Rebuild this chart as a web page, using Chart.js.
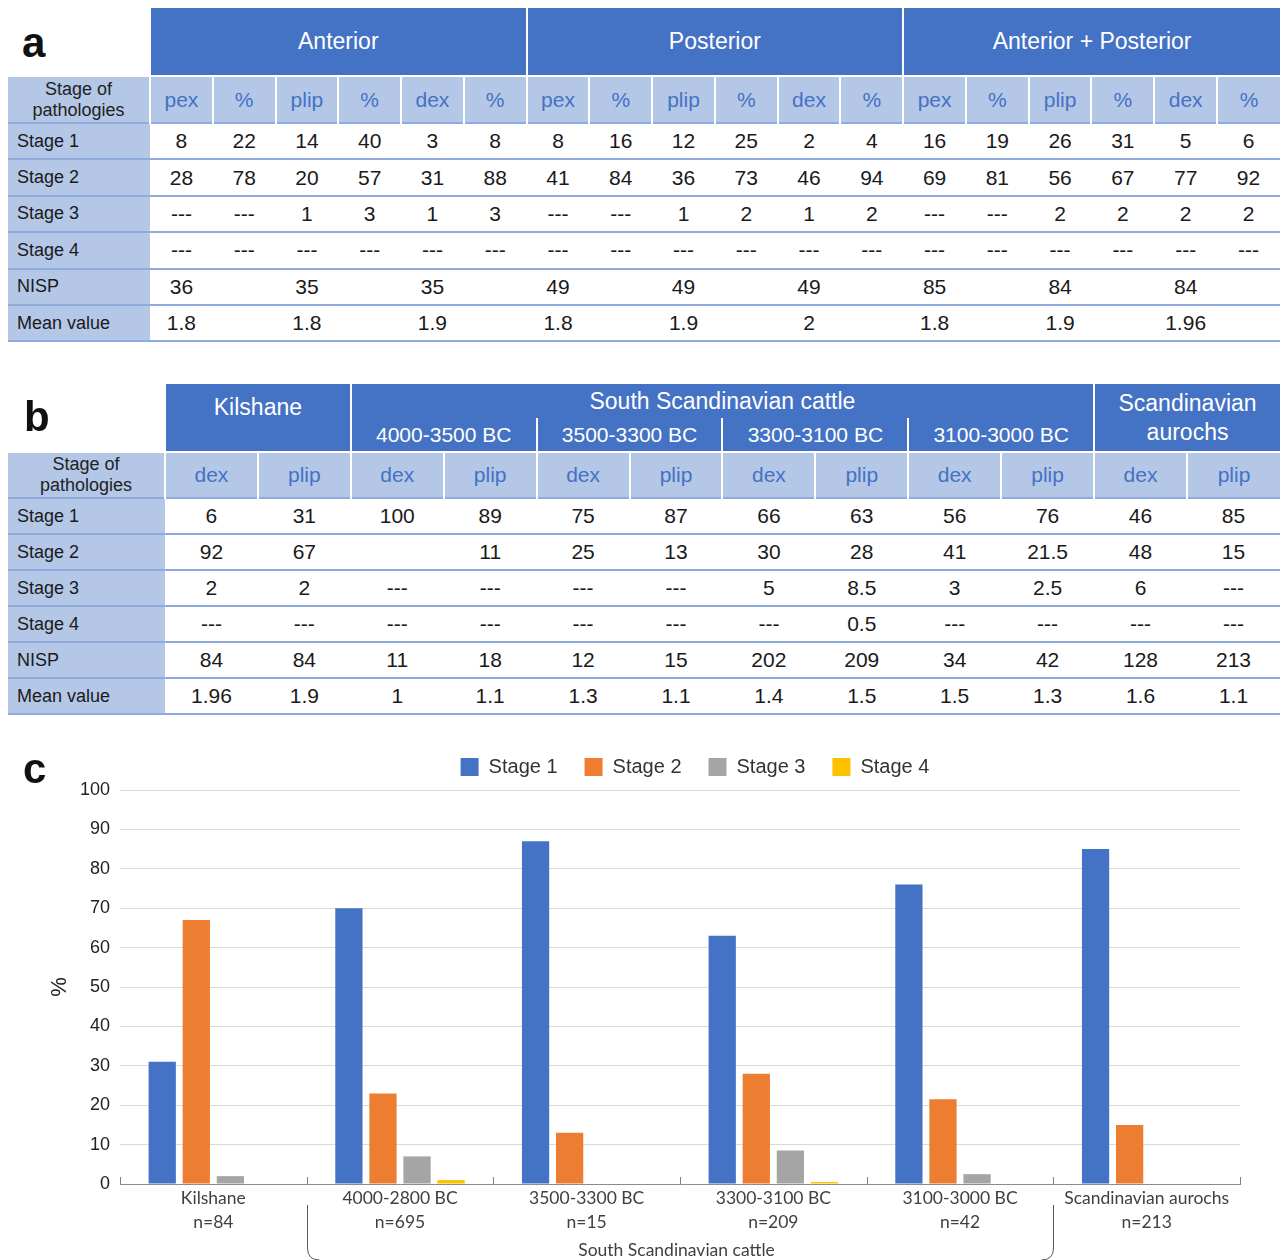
<!DOCTYPE html>
<html>
<head>
<meta charset="utf-8">
<script src="https://cdn.jsdelivr.net/npm/chart.js@4.4.1/dist/chart.umd.min.js"></script>
<style>
  body { margin: 0; width: 1286px; height: 1260px; background: #fff; position: relative; overflow: hidden; font-family: "Liberation Sans", Arial, sans-serif; }
  .panel-label { position: absolute; z-index: 5; font-weight: bold; font-size: 42px; line-height: 42px; color: #111; }
  table { position: absolute; left: 8px; width: 1272px; border-collapse: collapse; table-layout: fixed; }
  td, th { padding: 0; text-align: center; font-weight: normal; white-space: nowrap; overflow: hidden; }
  th.blank { background: transparent; }
  th.group { background: #4472C4; color: #fff; font-size: 23px; border-left: 2px solid #fff; }
  tr.sub td { background: #B4C7E7; color: #4472C4; font-size: 21px; height: 44px; border-left: 2px solid #fff; border-top: 2px solid #fff; }
  #table-a tr.sub td { height: 45px; }
  tr.sub td.stub { color: #222; font-size: 18px; line-height: 21px; white-space: normal; border-left: none; }
  tr.data td { height: 34px; font-size: 21px; color: #1a1a1a; border-top: 2px solid #8FAADC; }
  #table-a tr.data td { height: 34.4px; }
  tr.data:last-child td { border-bottom: 2px solid #8FAADC; }
  tr.data td.stub { background: #B4C7E7; text-align: left; padding-left: 9px; font-size: 18px; }
  #chart-box { position: absolute; left: 0; top: 727px; width: 1286px; height: 533px; }
</style>
</head>
<body>
<div class="panel-label" style="left:22px; top:22px;">a</div>
<div class="panel-label" style="left:24px; top:396px;">b</div>
<div class="panel-label" style="left:23px; top:748px;">c</div>

<table id="table-a" style="top:8px;"></table>
<table id="table-b" style="top:384px;"></table>

<div id="chart-box"><canvas id="stage-chart"></canvas></div>

<script>
// ---- table a: pathologies by element ----
const rowLabels = ["Stage 1", "Stage 2", "Stage 3", "Stage 4", "NISP", "Mean value"];
const aGroups = ["Anterior", "Posterior", "Anterior + Posterior"];
const aColumns = ["pex", "%", "plip", "%", "dex", "%"];
// null = "---", "" = empty cell
const aStage1 = [8, 22, 14, 40, 3, 8, 8, 16, 12, 25, 2, 4, 16, 19, 26, 31, 5, 6];
const aStage2 = [28, 78, 20, 57, 31, 88, 41, 84, 36, 73, 46, 94, 69, 81, 56, 67, 77, 92];
const aStage3 = [null, null, 1, 3, 1, 3, null, null, 1, 2, 1, 2, null, null, 2, 2, 2, 2];
const aStage4 = [null, null, null, null, null, null, null, null, null, null, null, null, null, null, null, null, null, null];
const aNisp = [36, "", 35, "", 35, "", 49, "", 49, "", 49, "", 85, "", 84, "", 84, ""];
const aMean = [1.8, "", 1.8, "", 1.9, "", 1.8, "", 1.9, "", 2, "", 1.8, "", 1.9, "", 1.96, ""];

// ---- table b: comparison with Scandinavian material ----
const bPeriods = ["4000-3500 BC", "3500-3300 BC", "3300-3100 BC", "3100-3000 BC"];
const bColumns = ["dex", "plip", "dex", "plip", "dex", "plip", "dex", "plip", "dex", "plip", "dex", "plip"];
const bStage1 = [6, 31, 100, 89, 75, 87, 66, 63, 56, 76, 46, 85];
const bStage2 = [92, 67, "", 11, 25, 13, 30, 28, 41, 21.5, 48, 15];
const bStage3 = [2, 2, null, null, null, null, 5, 8.5, 3, 2.5, 6, null];
const bStage4 = [null, null, null, null, null, null, null, 0.5, null, null, null, null];
const bNisp = [84, 84, 11, 18, 12, 15, 202, 209, 34, 42, 128, 213];
const bMean = [1.96, 1.9, 1, 1.1, 1.3, 1.1, 1.4, 1.5, 1.5, 1.3, 1.6, 1.1];

// ---- chart c ----
const categories = [
    ["Kilshane", "n=84"],
    ["4000-2800 BC", "n=695"],
    ["3500-3300 BC", "n=15"],
    ["3300-3100 BC", "n=209"],
    ["3100-3000 BC", "n=42"],
    ["Scandinavian aurochs", "n=213"],
];
const stage1 = [31, 70, 87, 63, 76, 85];
const stage2 = [67, 23, 13, 28, 21.5, 15];
const stage3 = [2, 7, null, 8.5, 2.5, null];
const stage4 = [null, 1, null, 0.5, null, null];
const braceLabel = "South Scandinavian cattle";

function cellText(v) {
    return v === null ? "---" : String(v);
}

function dataRows(rows) {
    return rows.map((values, i) =>
        '<tr class="data"><td class="stub">' + rowLabels[i] + "</td>" +
        values.map((v) => "<td>" + cellText(v) + "</td>").join("") + "</tr>"
    ).join("");
}

// Build table a
(function () {
    let html = '<colgroup><col style="width:142px">' + "<col>".repeat(18) + "</colgroup>";
    html += '<tr style="height:68px"><th class="blank"></th>' +
        aGroups.map((g) => '<th class="group" colspan="6">' + g + "</th>").join("") + "</tr>";
    html += '<tr class="sub"><td class="stub">Stage of<br>pathologies</td>' +
        aGroups.map(() => aColumns.map((c) => "<td>" + c + "</td>").join("")).join("") + "</tr>";
    html += dataRows([aStage1, aStage2, aStage3, aStage4, aNisp, aMean]);
    document.getElementById("table-a").innerHTML = html;
})();

// Build table b
(function () {
    let html = '<colgroup><col style="width:157px">' + "<col>".repeat(12) + "</colgroup>";
    html += '<tr style="height:34px"><th class="blank" rowspan="2"></th>' +
        '<th class="group" colspan="2" rowspan="2" style="vertical-align:top;padding-top:10px">Kilshane</th>' +
        '<th class="group" colspan="8">South Scandinavian cattle</th>' +
        '<th class="group" colspan="2" rowspan="2" style="line-height:29px;white-space:normal">Scandinavian<br>aurochs</th></tr>';
    html += '<tr style="height:34px">' +
        bPeriods.map((p) => '<th class="group" colspan="2" style="font-size:21px">' + p + "</th>").join("") + "</tr>";
    html += '<tr class="sub"><td class="stub">Stage of<br>pathologies</td>' +
        bColumns.map((c) => "<td>" + c + "</td>").join("") + "</tr>";
    html += dataRows([bStage1, bStage2, bStage3, bStage4, bNisp, bMean]);
    document.getElementById("table-b").innerHTML = html;
})();

// Legend: fixed height and shifted a bit, like the original
const legendSpacing = {
    id: "legendSpacing",
    beforeLayout(chart) {
        const legend = chart.legend;
        if (legend && !legend._fixed) {
            const fit = legend.fit;
            legend.fit = function () {
                fit.call(this);
                this.height = 63;
            };
            legend._fixed = true;
        }
    },
    afterLayout(chart) {
        chart.legend.left += 30;
        chart.legend.top += 3;
    },
};

// Upward tick marks between groups and the brace under the cattle groups
const axisDecor = {
    id: "axisDecor",
    afterDraw(chart) {
        const { ctx, chartArea } = chart;
        const x = chart.scales.x;
        ctx.save();
        ctx.strokeStyle = "#7f7f7f";
        ctx.lineWidth = 1;
        for (let i = 0; i <= categories.length; i++) {
            const px = Math.round(x.getPixelForValue(i - 0.5)) + 0.5;
            ctx.beginPath();
            ctx.moveTo(px, chartArea.bottom);
            ctx.lineTo(px, chartArea.bottom - 7);
            ctx.stroke();
        }

        const x0 = Math.round(x.getPixelForValue(0.5)) + 0.5;
        const x1 = Math.round(x.getPixelForValue(4.5)) + 0.5;
        const top = chartArea.bottom + 21;
        const bottom = chart.height;
        ctx.strokeStyle = "#595959";
        ctx.beginPath();
        ctx.moveTo(x0, top);
        ctx.lineTo(x0, bottom - 12);
        ctx.quadraticCurveTo(x0, bottom, x0 + 12, bottom);
        ctx.moveTo(x1, top);
        ctx.lineTo(x1, bottom - 12);
        ctx.quadraticCurveTo(x1, bottom, x1 - 12, bottom);
        ctx.stroke();

        ctx.fillStyle = "#404040";
        ctx.font = "17.5px Lato, 'Open Sans', sans-serif";
        ctx.textAlign = "center";
        ctx.textBaseline = "middle";
        ctx.fillText(braceLabel, (x0 + x1) / 2 - 4, bottom - 10);
        ctx.restore();
    },
};

const stageChart = new Chart(document.getElementById("stage-chart"), {
    type: "bar",
    data: {
        labels: categories,
        datasets: [
            { label: "Stage 1", data: stage1, backgroundColor: "#4472C4" },
            { label: "Stage 2", data: stage2, backgroundColor: "#ED7D31" },
            { label: "Stage 3", data: stage3, backgroundColor: "#A5A5A5" },
            { label: "Stage 4", data: stage4, backgroundColor: "#FFC000" },
        ],
    },
    options: {
        responsive: true,
        maintainAspectRatio: false,
        animation: false,
        categoryPercentage: 0.73,
        barPercentage: 0.8,
        layout: {
            padding: { left: 0, right: 46, top: 0, bottom: 0 },
        },
        plugins: {
            legend: {
                position: "top",
                fullSize: false,
                labels: {
                    boxWidth: 18,
                    boxHeight: 18,
                    padding: 27,
                    color: "#333",
                    font: { family: "'Liberation Sans', Arial, sans-serif", size: 20 },
                },
            },
            tooltip: { enabled: false },
        },
        scales: {
            x: {
                grid: { display: false, drawTicks: false },
                border: { display: true, color: "#8c8c8c", width: 1 },
                ticks: {
                    color: "#404040",
                    padding: 2,
                    maxRotation: 0,
                    autoSkip: false,
                    font: { family: "Lato, 'Open Sans', sans-serif", size: 17.5, lineHeight: 1.4 },
                },
                afterFit(scale) {
                    scale.height = 76;
                },
            },
            y: {
                min: 0,
                max: 100,
                ticks: {
                    stepSize: 10,
                    padding: 10,
                    color: "#222",
                    font: { family: "'Liberation Sans', Arial, sans-serif", size: 18 },
                },
                grid: { color: "#d9d9d9", lineWidth: 1, drawTicks: false },
                border: { display: false },
                title: {
                    display: true,
                    text: "%",
                    color: "#222",
                    padding: { top: 47, bottom: 0 },
                    font: { family: "'Liberation Sans', Arial, sans-serif", size: 22 },
                },
                afterFit(scale) {
                    scale.width = 120;
                },
            },
        },
    },
    plugins: [legendSpacing, axisDecor],
});
</script>
</body>
</html>
